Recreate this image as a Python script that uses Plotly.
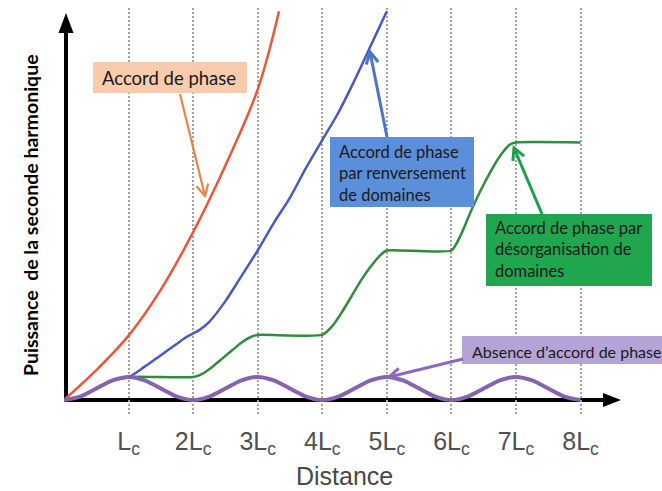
import math
import plotly.graph_objects as go

# Distance in units of the coherence length Lc, SHG power in arbitrary units
z_phase = [0, 0.5, 1, 1.5, 2, 2.5, 3, 3.33]
p_phase = [0, 1.3, 2.8, 4.8, 7.3, 10.2, 13.5, 16.9]

z_qpm = [0, 0.25, 0.5, 0.75, 1, 1.25, 1.5, 1.75, 1.9, 2, 2.1, 2.25, 2.5, 2.75,
         3, 3.25, 3.5, 3.75, 4, 4.25, 4.5, 4.75, 5]
p_qpm = [0, 0.15, 0.5, 0.85, 1, 1.45, 1.95, 2.45, 2.75, 2.9, 3.05, 3.4, 4.3, 5.4,
         6.5, 7.7, 8.8, 10.1, 11.3, 12.5, 13.9, 15.4, 16.9]

z_rand = [0, 0.25, 0.5, 0.75, 1, 2, 2.15, 2.3, 2.45, 2.6, 2.75, 2.9, 3,
          4, 4.15, 4.3, 4.45, 4.6, 4.75, 4.9, 5,
          6, 6.15, 6.3, 6.45, 6.6, 6.75, 6.9, 7, 8]
p_rand = [0, 0.15, 0.5, 0.85, 1, 1, 1.15, 1.45, 1.8, 2.15, 2.5, 2.75, 2.83,
          2.83, 3.2, 3.8, 4.5, 5.2, 5.8, 6.3, 6.5,
          6.5, 7.2, 8.2, 9.1, 9.9, 10.6, 11.1, 11.2, 11.2]

z_none = [0, 0.25, 0.5, 0.75, 1, 1.25, 1.5, 1.75, 2, 2.25, 2.5, 2.75, 3, 3.25, 3.5, 3.75,
          4, 4.25, 4.5, 4.75, 5, 5.25, 5.5, 5.75, 6, 6.25, 6.5, 6.75, 7, 7.25, 7.5, 7.75, 8]
p_none = [0, 0.15, 0.5, 0.85, 1, 0.85, 0.5, 0.15, 0, 0.15, 0.5, 0.85, 1, 0.85, 0.5, 0.15,
          0, 0.15, 0.5, 0.85, 1, 0.85, 0.5, 0.15, 0, 0.15, 0.5, 0.85, 1, 0.85, 0.5, 0.15, 0]

tick_vals = [1, 2, 3, 4, 5, 6, 7, 8]
tick_text = ["L<sub>c</sub>", "2L<sub>c</sub>", "3L<sub>c</sub>", "4L<sub>c</sub>",
             "5L<sub>c</sub>", "6L<sub>c</sub>", "7L<sub>c</sub>", "8L<sub>c</sub>"]

W, H = 662, 491
L, R, T, B = 64, 36, 8, 75
PW, PH = W - L - R, H - T - B
X_MAX = PW / 64.57
Y_TOP = (H - B - T - 16) / 23.0
Y_BOT = -16 / 23.0


def px(x):
    return (x - L) / PW


def py(y):
    return (H - B - y) / PH


fig = go.Figure()
fig.add_trace(go.Scatter(x=z_phase, y=p_phase, mode="lines",
                         line=dict(color="#ec5638", width=2.5, shape="spline", smoothing=1.0)))
fig.add_trace(go.Scatter(x=z_qpm, y=p_qpm, mode="lines",
                         line=dict(color="#4a58c2", width=2.5, shape="spline", smoothing=0.9)))
fig.add_trace(go.Scatter(x=z_rand, y=p_rand, mode="lines",
                         line=dict(color="#2f8c3e", width=2.5, shape="spline", smoothing=0.5)))
fig.add_trace(go.Scatter(x=z_none, y=p_none, mode="lines",
                         line=dict(color="#8563ae", width=4, shape="spline", smoothing=0.8)))

shapes = []
# axes with arrow heads
shapes.append(dict(type="line", xref="paper", yref="paper", x0=px(66), x1=px(66),
                   y0=py(402), y1=py(30), line=dict(color="black", width=4), layer="between"))
shapes.append(dict(type="path", xref="paper", yref="paper",
                   path=f"M {px(58.5)},{py(33)} L {px(66)},{py(13)} L {px(73.5)},{py(33)} Z",
                   fillcolor="black", line=dict(width=0), layer="between"))
shapes.append(dict(type="line", xref="paper", yref="paper", x0=px(64), x1=px(606),
                   y0=py(400), y1=py(400), line=dict(color="black", width=4), layer="between"))
shapes.append(dict(type="path", xref="paper", yref="paper",
                   path=f"M {px(603)},{py(393)} L {px(621)},{py(400)} L {px(603)},{py(407)} Z",
                   fillcolor="black", line=dict(width=0), layer="between"))

# label boxes
boxes = [
    (93, 62, 247, 93, "#f8cbad"),
    (330, 137, 474, 207, "#5b8fd9"),
    (486, 214, 652, 286, "#20a64f"),
    (462, 336, 670, 364, "#b4a3d6"),
]
for x0, y0, x1, y1, c in boxes:
    shapes.append(dict(type="rect", xref="paper", yref="paper", x0=px(x0), x1=px(x1),
                       y0=py(y1), y1=py(y0), fillcolor=c, line=dict(width=0), layer="above"))

# pointer arrows with open V heads: (tip x, tip y, tail x, tail y, colour, width)
arrows = [
    (205, 196, 180, 94, "#e8844a", 2.2),
    (370, 52, 387, 137, "#4a74c4", 3),
    (514, 148, 542, 214, "#1f9e4a", 3),
    (389, 377, 463, 359, "#8a68c0", 3),
]
HEAD_LEN, HEAD_ANG = 13, math.radians(28)
for xt, yt, xs, ys, c, w in arrows:
    shapes.append(dict(type="line", xref="paper", yref="paper", x0=px(xs), y0=py(ys),
                       x1=px(xt), y1=py(yt), line=dict(color=c, width=w), layer="above"))
    ang = math.atan2(ys - yt, xs - xt)
    pts = []
    for s in (1, -1):
        a = ang + s * HEAD_ANG
        pts.append((xt + HEAD_LEN * math.cos(a), yt + HEAD_LEN * math.sin(a)))
    path = (f"M {px(pts[0][0])},{py(pts[0][1])} L {px(xt)},{py(yt)} "
            f"L {px(pts[1][0])},{py(pts[1][1])}")
    shapes.append(dict(type="path", xref="paper", yref="paper", path=path,
                       line=dict(color=c, width=w), layer="above"))

annotations = []
labels = [
    (100, 78, "Accord de phase", 18.5),
    (337, 173, "Accord de phase<br>par renversement<br>de domaines", 16.5),
    (493, 249, "Accord de phase par<br>désorganisation de<br>domaines", 16.5),
    (470, 351, "Absence d’accord de phase", 16),
]
for x, y, t, s in labels:
    annotations.append(dict(xref="paper", yref="paper", x=px(x), y=py(y), text=t,
                            showarrow=False, xanchor="left", yanchor="middle",
                            align="left",
                            font=dict(family="Lato, sans-serif", size=s, color="#1a1a1a")))

annotations.append(dict(xref="paper", yref="paper", x=px(30), y=py(215),
                        text="<b>Puissance\u00a0 de la seconde harmonique</b>", textangle=-90,
                        showarrow=False, xanchor="center", yanchor="middle",
                        font=dict(family="Lato, sans-serif", size=19.5, color="black")))
annotations.append(dict(xref="paper", yref="paper", x=px(344), y=py(476), text="Distance",
                        showarrow=False, xanchor="center", yanchor="middle",
                        font=dict(family="Liberation Sans, Arial, sans-serif", size=25,
                                  color="#484848")))

fig.update_layout(
    width=W, height=H,
    margin=dict(l=L, r=R, t=T, b=B),
    paper_bgcolor="white", plot_bgcolor="white",
    showlegend=False,
    shapes=shapes, annotations=annotations,
    xaxis=dict(range=[0, X_MAX], tickvals=tick_vals, ticktext=tick_text,
               showgrid=True, gridcolor="#a3a3a3", griddash="2px,2px", gridwidth=2,
               zeroline=False, showline=False, ticks="", ticklabelstandoff=8,
               tickfont=dict(family="Liberation Sans, Arial, sans-serif", size=25,
                             color="#505050")),
    yaxis=dict(range=[Y_BOT, Y_TOP], showgrid=False, zeroline=False,
               showticklabels=False, showline=False, ticks=""),
)

fig.write_html("out.html")
